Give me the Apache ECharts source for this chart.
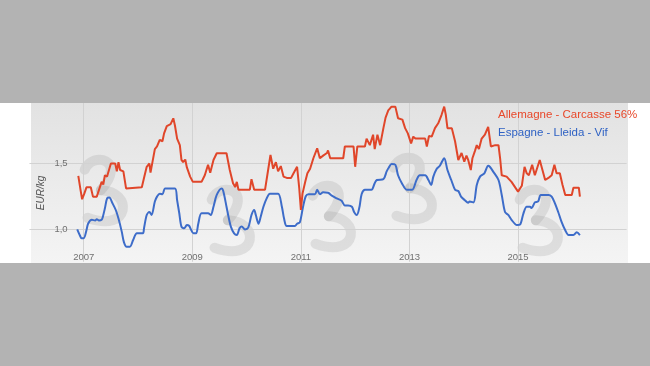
<!DOCTYPE html>
<html>
<head>
<meta charset="utf-8">
<script src="https://cdn.jsdelivr.net/npm/echarts@6/dist/echarts.min.js"></script>
<style>
html,body{margin:0;padding:0;background:#b3b3b3;}
#chart{width:650px;height:366px;}
</style>
</head>
<body>
<div id="chart"></div>
<script>
// ---- data ----
const seriesNames = ['Allemagne - Carcasse 56%', 'Espagne - Lleida - Vif'];
const yAxisName = 'EUR/kg';
const xTickValues = [2007, 2009, 2011, 2013, 2015];
const xTickLabels = ['2007', '2009', '2011', '2013', '2015'];
const yTickValues = [1.0, 1.5];
const yTickLabels = ['1,0', '1,5'];

const redYears = [2006.90,2006.94,2006.97,2007.01,2007.05,2007.13,2007.17,2007.24,2007.29,2007.33,
2007.36,2007.39,2007.43,2007.45,2007.50,2007.58,2007.61,2007.64,2007.67,2007.73,
2007.78,2008.07,2008.11,2008.16,2008.21,2008.23,2008.27,2008.31,2008.35,2008.40,
2008.45,2008.48,2008.53,2008.60,2008.65,2008.68,2008.72,2008.77,2008.80,2008.83,
2008.87,2008.90,2008.96,2009.01,2009.17,2009.23,2009.29,2009.33,2009.39,2009.45,
2009.63,2009.69,2009.75,2009.79,2009.82,2009.85,2010.06,2010.09,2010.14,2010.34,
2010.40,2010.44,2010.49,2010.54,2010.58,2010.63,2010.68,2010.74,2010.82,2010.87,
2010.93,2010.97,2011.00,2011.03,2011.08,2011.12,2011.17,2011.23,2011.30,2011.35,
2011.41,2011.48,2011.50,2011.54,2011.78,2011.81,2011.97,2012.00,2012.04,2012.18,
2012.21,2012.27,2012.33,2012.36,2012.41,2012.46,2012.52,2012.56,2012.61,2012.67,
2012.74,2012.79,2012.87,2012.92,2012.97,2013.03,2013.07,2013.11,2013.29,2013.32,
2013.36,2013.41,2013.47,2013.53,2013.59,2013.64,2013.67,2013.70,2013.78,2013.84,
2013.90,2013.96,2014.01,2014.05,2014.08,2014.13,2014.16,2014.21,2014.24,2014.28,
2014.33,2014.39,2014.45,2014.50,2014.58,2014.64,2014.67,2014.70,2014.79,2014.88,
2014.96,2015.00,2015.07,2015.12,2015.16,2015.20,2015.26,2015.31,2015.36,2015.40,
2015.45,2015.50,2015.56,2015.62,2015.67,2015.71,2015.77,2015.82,2015.87,2015.99,
2016.02,2016.12,2016.14];
const redValues = [1.405,1.30,1.227,1.27,1.318,1.318,1.247,1.247,1.31,1.36,
1.34,1.41,1.40,1.43,1.50,1.50,1.44,1.51,1.45,1.44,
1.31,1.318,1.39,1.475,1.50,1.43,1.52,1.61,1.63,1.68,
1.67,1.73,1.786,1.80,1.845,1.79,1.69,1.64,1.527,1.51,
1.53,1.47,1.40,1.36,1.36,1.41,1.49,1.43,1.527,1.578,
1.578,1.45,1.35,1.32,1.36,1.30,1.30,1.38,1.30,1.30,
1.46,1.565,1.46,1.51,1.44,1.48,1.40,1.39,1.39,1.43,
1.475,1.31,1.145,1.27,1.36,1.425,1.46,1.54,1.616,1.54,
1.56,1.58,1.60,1.54,1.54,1.63,1.63,1.475,1.63,1.63,
1.69,1.64,1.72,1.61,1.72,1.64,1.77,1.85,1.905,1.934,
1.934,1.845,1.835,1.77,1.73,1.654,1.705,1.69,1.69,1.63,
1.71,1.705,1.77,1.807,1.87,1.934,1.87,1.77,1.77,1.67,
1.527,1.58,1.514,1.56,1.53,1.45,1.54,1.60,1.64,1.61,
1.69,1.72,1.78,1.63,1.64,1.64,1.54,1.41,1.40,1.36,
1.31,1.285,1.33,1.475,1.425,1.41,1.49,1.41,1.475,1.527,
1.45,1.374,1.39,1.41,1.49,1.425,1.425,1.336,1.26,1.26,
1.315,1.315,1.247];

const blueYears = [2006.88,2006.93,2006.96,2007.00,2007.05,2007.08,2007.15,2007.21,2007.24,2007.28,
2007.33,2007.35,2007.39,2007.43,2007.47,2007.53,2007.59,2007.64,2007.70,2007.74,
2007.79,2007.85,2007.91,2007.98,2008.09,2008.11,2008.16,2008.21,2008.25,2008.31,
2008.35,2008.40,2008.45,2008.50,2008.68,2008.72,2008.76,2008.80,2008.85,2008.90,
2008.94,2008.97,2009.02,2009.07,2009.11,2009.17,2009.29,2009.34,2009.39,2009.45,
2009.54,2009.57,2009.63,2009.66,2009.71,2009.77,2009.82,2009.87,2009.91,2009.97,
2010.03,2010.09,2010.14,2010.17,2010.22,2010.26,2010.31,2010.37,2010.43,2010.58,
2010.65,2010.69,2010.74,2010.89,2010.93,2010.98,2011.04,2011.09,2011.14,2011.26,
2011.30,2011.35,2011.41,2011.50,2011.57,2011.66,2011.75,2011.81,2011.87,2011.94,
2011.98,2012.03,2012.08,2012.12,2012.18,2012.30,2012.36,2012.40,2012.52,2012.58,
2012.62,2012.67,2012.74,2012.79,2012.86,2012.95,2013.05,2013.13,2013.19,2013.29,
2013.35,2013.40,2013.44,2013.50,2013.56,2013.64,2013.70,2013.77,2013.84,2013.90,
2013.95,2014.02,2014.08,2014.11,2014.18,2014.24,2014.30,2014.38,2014.45,2014.48,
2014.54,2014.64,2014.70,2014.76,2014.82,2014.88,2014.98,2015.04,2015.10,2015.16,
2015.22,2015.25,2015.31,2015.37,2015.42,2015.56,2015.62,2015.68,2015.74,2015.80,
2015.87,2015.93,2016.02,2016.08,2016.14];
const blueValues = [0.997,0.95,0.93,0.93,0.99,1.04,1.07,1.065,1.075,1.065,
1.07,1.09,1.158,1.234,1.24,1.196,1.145,1.08,0.98,0.90,
0.865,0.865,0.916,0.967,0.967,1.005,1.107,1.13,1.107,1.21,
1.247,1.27,1.265,1.31,1.31,1.22,1.12,1.018,1.005,1.03,
1.025,1.0,0.967,0.967,1.04,1.12,1.12,1.107,1.17,1.26,
1.31,1.29,1.17,1.107,1.018,0.967,0.954,1.005,1.02,0.997,
1.01,1.107,1.145,1.107,1.04,1.094,1.17,1.234,1.27,1.27,
1.17,1.08,1.023,1.023,1.04,1.05,1.17,1.25,1.265,1.265,
1.30,1.265,1.28,1.277,1.255,1.234,1.215,1.18,1.18,1.17,
1.13,1.107,1.17,1.267,1.30,1.30,1.35,1.374,1.38,1.44,
1.47,1.496,1.49,1.41,1.35,1.30,1.30,1.374,1.41,1.41,
1.374,1.336,1.40,1.458,1.483,1.54,1.45,1.374,1.30,1.29,
1.247,1.22,1.20,1.21,1.203,1.336,1.40,1.425,1.483,1.475,
1.44,1.374,1.26,1.13,1.107,1.07,1.03,1.035,1.12,1.17,
1.17,1.16,1.203,1.21,1.26,1.26,1.247,1.196,1.13,1.056,
0.99,0.954,0.954,0.975,0.954];

// ---- styling ----
const RED = '#e0462a';
const BLUE = '#3d6cc9';
const GRID_COLOR = '#d2d2d2';
const FONT = '"Liberation Sans", Arial, sans-serif';

const xMin = 2006, xMax = 2017, xInterval = 1;
const yMin = 0.75, yMax = 2.0, yInterval = 0.25;

const xAllTicks = [];
for (let v = xMin; v <= xMax + 1e-9; v += xInterval) xAllTicks.push(Math.round(v * 100) / 100);
const yAllTicks = [];
for (let v = yMin; v <= yMax + 1e-9; v += yInterval) yAllTicks.push(Math.round(v * 100) / 100);

const xLineColors = xAllTicks.map(v => xTickValues.indexOf(v) >= 0 ? GRID_COLOR : 'rgba(0,0,0,0)');
const yLineColors = yAllTicks.map(v => yTickValues.some(t => Math.abs(t - v) < 1e-6) ? GRID_COLOR : 'rgba(0,0,0,0)');

function pairs(xs, ys) { return xs.map((x, i) => [x, ys[i]]); }

// watermark "3" glyphs (background decoration, two bezier bowls each)
const marks = [[103, 192, 0.1], [230, 222, 0.1], [331, 218, 0.1], [412, 190, 0.1], [538, 222, 0.1]];
const wmStyle = { fill: null, stroke: 'rgba(140,140,140,0.2)', lineWidth: 10, lineCap: 'round' };
const watermark = [];
marks.forEach(m => {
  watermark.push({
    type: 'group', x: m[0], y: m[1], rotation: m[2], z: -9, silent: true,
    children: [
      { type: 'bezierCurve', z: -9, silent: true,
        shape: { x1: -16, y1: -24, cpx1: -6, cpy1: -42, cpx2: 28, cpy2: -30, x2: -2, y2: -2 }, style: wmStyle },
      { type: 'bezierCurve', z: -9, silent: true,
        shape: { x1: -2, y1: -2, cpx1: 30, cpy1: 2, cpx2: 24, cpy2: 44, x2: -18, y2: 24 }, style: wmStyle }
    ]
  });
});

const chart = echarts.init(document.getElementById('chart'), null, { renderer: 'canvas' });
chart.setOption({
  animation: false,
  backgroundColor: '#b3b3b3',
  textStyle: { fontFamily: FONT },
  graphic: [
    { type: 'rect', z: -20, silent: true, shape: { x: 0, y: 103, width: 650, height: 160 }, style: { fill: '#ffffff' } },
    { type: 'rect', z: -19, silent: true, shape: { x: 31, y: 103, width: 597, height: 160 },
      style: { fill: { type: 'linear', x: 0, y: 0, x2: 0, y2: 1, global: false,
        colorStops: [{ offset: 0, color: '#e2e2e2' }, { offset: 1, color: '#f4f4f4' }] } } },
    // outer gray band above the plot, covering the grid's top strip
    { type: 'rect', z: 1, silent: true, shape: { x: 0, y: 90, width: 650, height: 13 }, style: { fill: '#b3b3b3' } },
    ...watermark,
    { type: 'text', x: 41, y: 193, rotation: Math.PI / 2, z: 5,
      style: { text: yAxisName, fontSize: 10, fontStyle: 'italic', fontFamily: FONT, fill: '#555',
               align: 'center', verticalAlign: 'middle' } }
  ],
  legend: {
    orient: 'vertical', left: 493, top: 107.5, padding: 0,
    itemWidth: 0, itemHeight: 0, itemGap: 4.3, icon: 'rect',
    textStyle: { fontSize: 11.5, lineHeight: 14, fontFamily: FONT },
    data: [
      { name: seriesNames[0], textStyle: { color: '#e8482a' } },
      { name: seriesNames[1], textStyle: { color: '#2f62c4' } }
    ]
  },
  grid: { left: 29.45, right: 23.4, top: 98, bottom: 104.25, containLabel: false },
  xAxis: {
    type: 'value', min: xMin, max: xMax, interval: xInterval,
    axisLine: { show: false }, axisTick: { show: false },
    splitLine: { show: true, lineStyle: { color: xLineColors, width: 1 } },
    axisLabel: {
      margin: -9, fontSize: 9.5, color: '#707070', fontFamily: FONT,
      formatter: v => { const i = xTickValues.indexOf(Math.round(v * 100) / 100); return i >= 0 ? xTickLabels[i] : ''; }
    }
  },
  yAxis: {
    type: 'value', min: yMin, max: yMax, interval: yInterval,
    axisLine: { show: false }, axisTick: { show: false },
    splitLine: { show: true, lineStyle: { color: yLineColors, width: 1 } },
    axisLabel: {
      inside: true, margin: 25, fontSize: 9.5, color: '#707070', fontFamily: FONT,
      formatter: v => { const i = yTickValues.findIndex(t => Math.abs(t - v) < 1e-6); return i >= 0 ? yTickLabels[i] : ''; }
    }
  },
  series: [
    { name: seriesNames[0], type: 'line', data: pairs(redYears, redValues), showSymbol: false, symbol: 'none',
      lineStyle: { color: RED, width: 2 }, itemStyle: { color: RED }, z: 3 },
    { name: seriesNames[1], type: 'line', data: pairs(blueYears, blueValues), showSymbol: false, symbol: 'none',
      smooth: 0.3, lineStyle: { color: BLUE, width: 2 }, itemStyle: { color: BLUE }, z: 2 }
  ]
});
</script>
</body>
</html>
